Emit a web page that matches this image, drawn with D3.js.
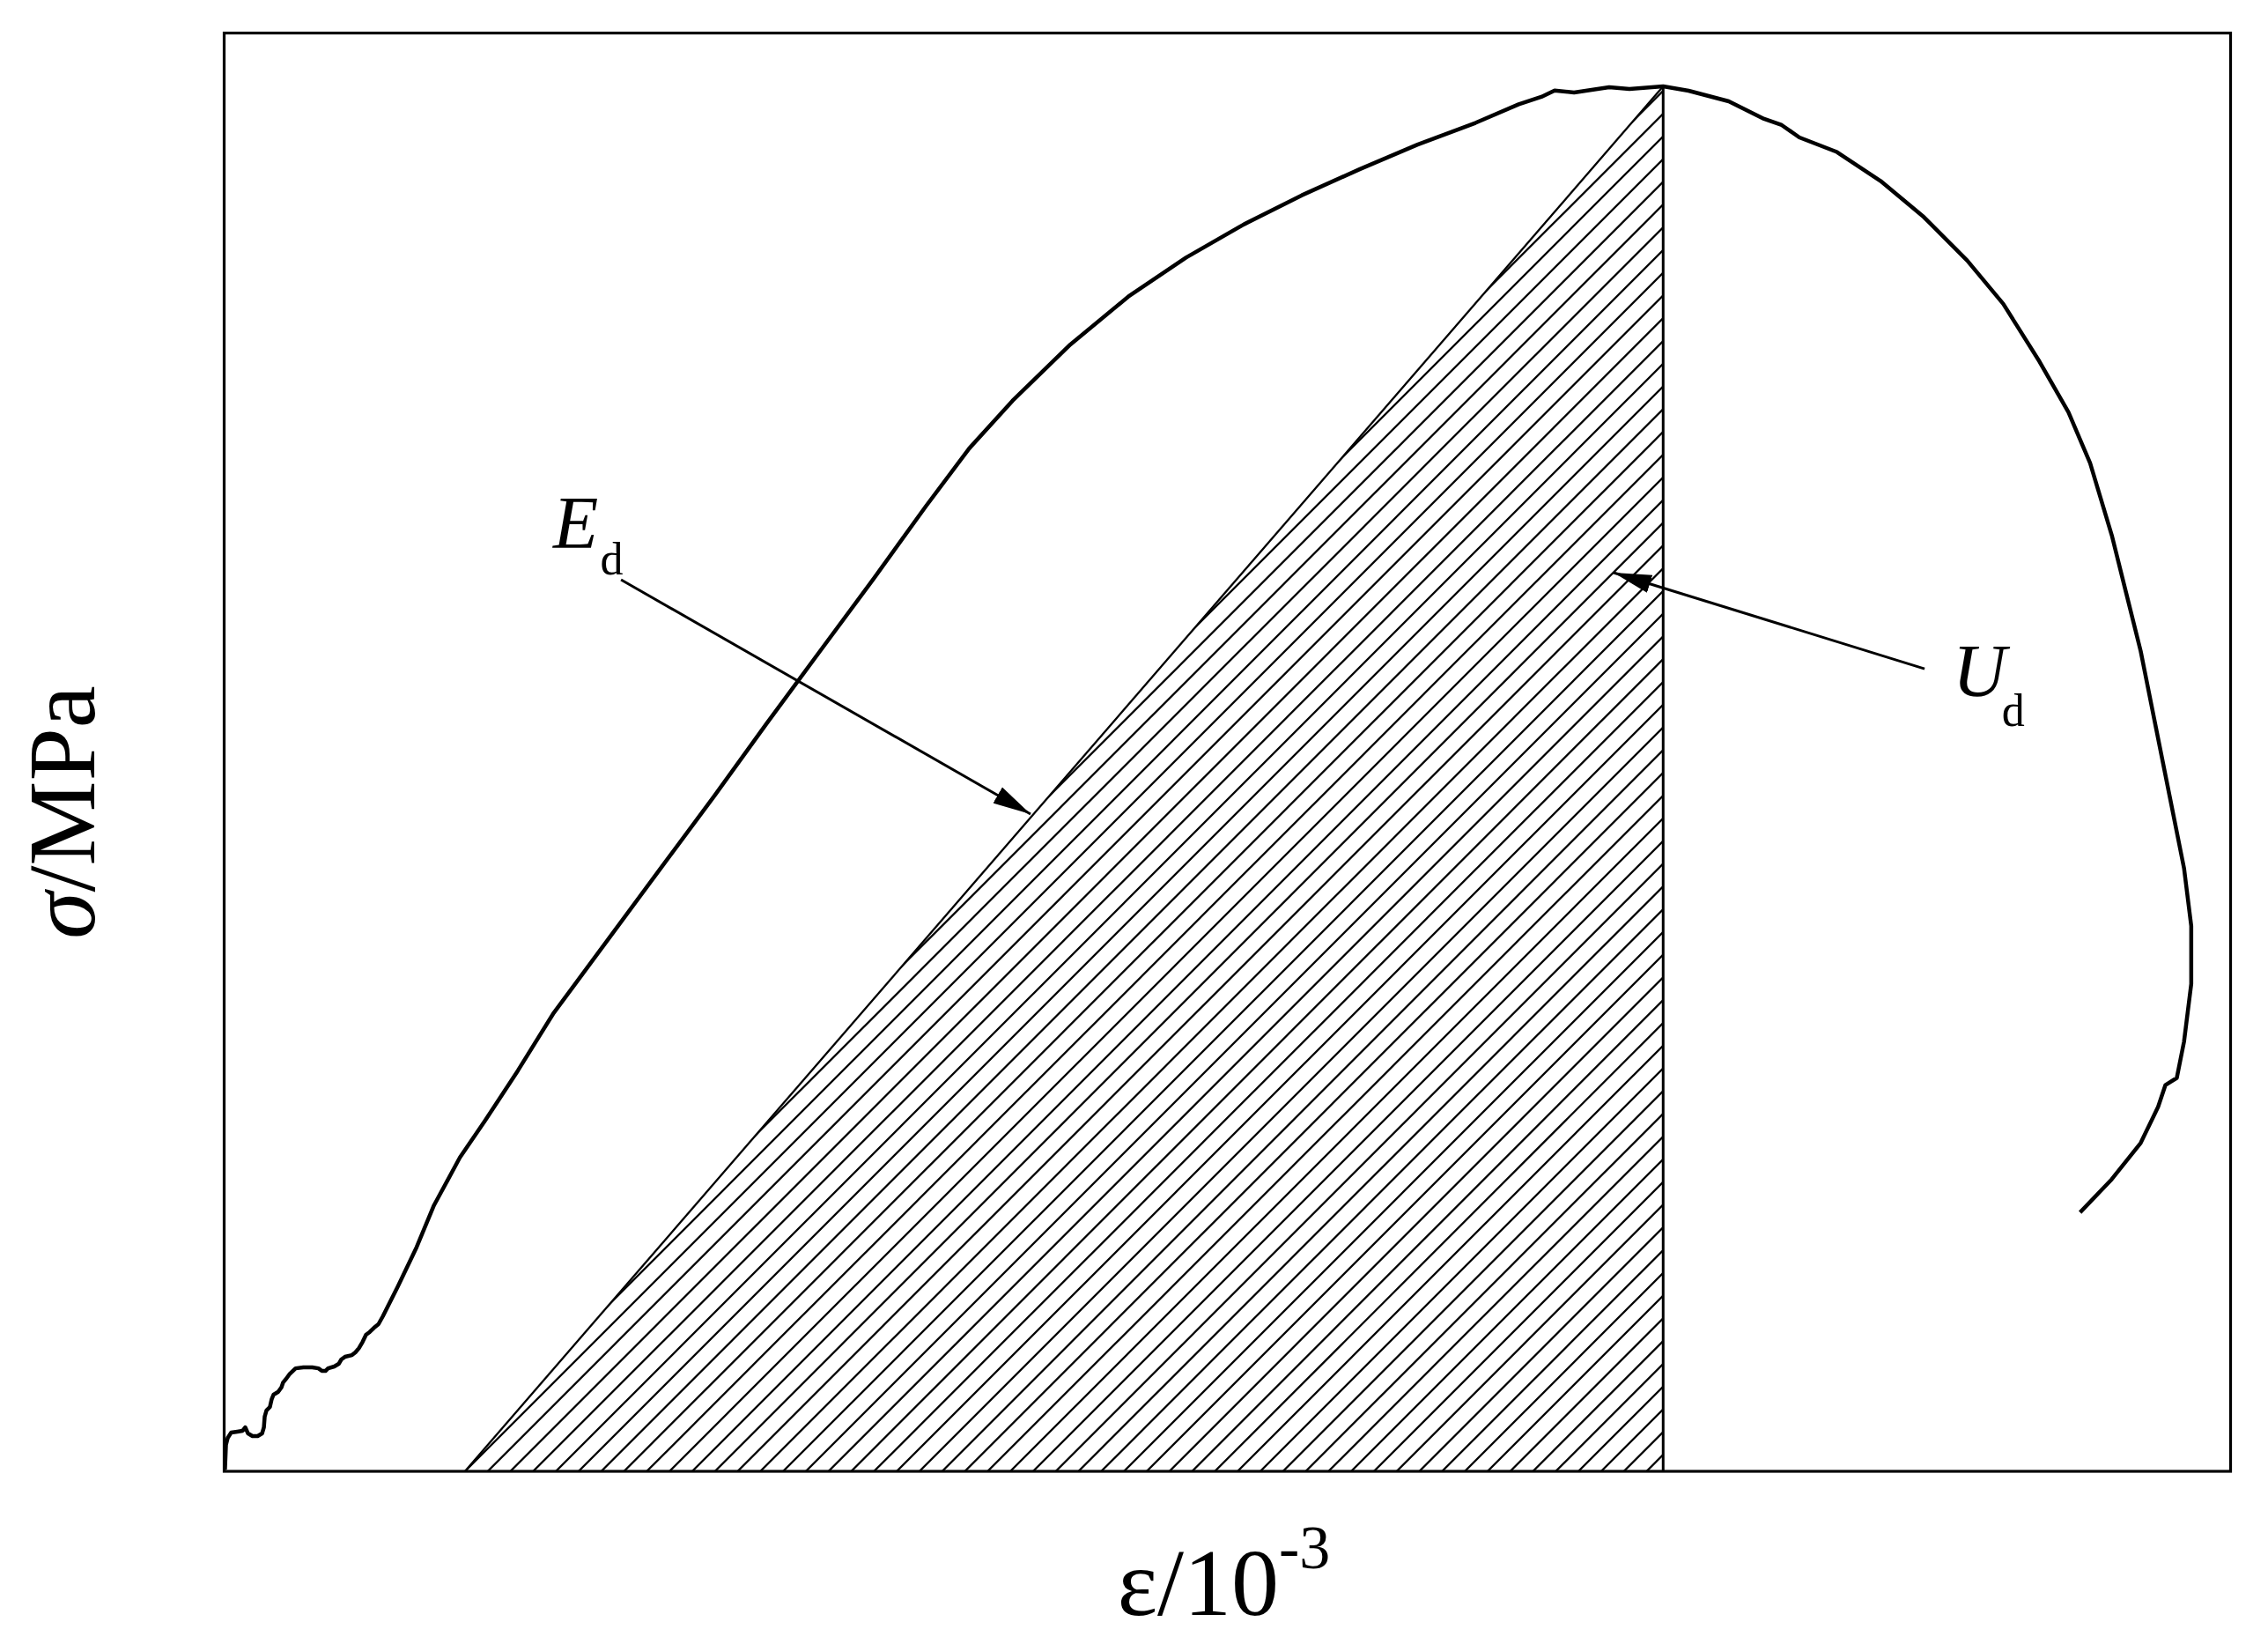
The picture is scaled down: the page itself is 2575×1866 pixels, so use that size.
<!DOCTYPE html>
<html>
<head>
<meta charset="utf-8">
<script src="https://cdn.jsdelivr.net/npm/d3@7"></script>
<style>
  body { margin: 0; background: #fff; }
  text { font-family: "Liberation Serif", "Times New Roman", serif; fill: #000; }
</style>
</head>
<body>
<div id="chart"></div>
<script>
// full stress-strain curve, strain in 10^-3, stress in MPa
const strain = [0.004, 0.009, 0.018, 0.035, 0.066, 0.092, 0.105, 0.119, 0.141, 0.167, 0.189, 0.198, 0.202, 0.211,
  0.228, 0.237, 0.246, 0.268, 0.285, 0.294, 0.312, 0.325, 0.356, 0.395, 0.439, 0.470, 0.487, 0.505, 0.518, 0.549,
  0.571, 0.584, 0.602, 0.637, 0.654, 0.672, 0.690, 0.707, 0.725, 0.747, 0.769, 0.791, 0.865, 0.959, 1.046, 1.175,
  1.298, 1.464, 1.643, 1.910, 2.176, 2.444, 2.704, 2.970, 3.237, 3.497, 3.713, 3.929, 4.218, 4.506,
  4.794, 5.083, 5.371, 5.659, 5.948, 6.236, 6.452, 6.565, 6.631, 6.728, 6.903, 7.004, 7.172,
  7.299, 7.499, 7.675, 7.763, 7.851, 8.038, 8.255, 8.471, 8.687, 8.867, 9.048, 9.192, 9.300, 9.408,
  9.480, 9.552, 9.624, 9.696, 9.768, 9.804, 9.804, 9.768, 9.732, 9.675, 9.639, 9.552, 9.408, 9.250]
const stress = [0.12, 1.84, 2.33, 2.69, 2.76, 2.82, 3.06, 2.63, 2.45, 2.45, 2.63, 3.06, 3.80, 4.23,
  4.47, 5.02, 5.33, 5.51, 5.82, 6.18, 6.49, 6.74, 7.16, 7.23, 7.23, 7.16, 6.98, 6.98, 7.16, 7.29,
  7.47, 7.78, 7.96, 8.08, 8.27, 8.57, 9.00, 9.49, 9.68, 9.98, 10.23, 10.78, 12.83, 15.58, 18.50, 21.82,
  24.33, 27.86, 31.88, 36.91, 41.94, 46.97, 52.00, 57.03, 62.06, 67.09, 71.11, 74.43, 78.35, 81.67,
  84.39, 86.70, 88.72, 90.53, 92.24, 93.75, 95.05, 95.56, 96.00, 95.87, 96.23, 96.11, 96.29,
  95.99, 95.25, 94.03, 93.60, 92.74, 91.73, 89.72, 87.21, 84.19, 81.17, 77.15, 73.63, 70.10, 65.08,
  61.05, 57.03, 51.99, 46.97, 41.94, 37.92, 33.89, 29.87, 27.35, 26.85, 25.34, 22.83, 20.31, 18.00]

// unloading line that bounds the releasable energy Ud
const unloadStrain = [1.20, 7.172]
const unloadStress = [0, 96.29]

// annotations: label, position (strain, stress), arrow start and arrow tip
const labels = ['E', 'U']
const labelStrain = [1.640, 8.615]
const labelStress = [64.20, 53.90]
const arrowFrom = [[1.978, 61.99], [8.475, 55.80]]
const arrowTo = [[4.019, 45.70], [6.925, 62.48]]

const width = 2575, height = 1866
const margin = {left: 254.5, right: 42.5, top: 37.5, bottom: 196}

const svg = d3.select('#chart').append('svg')
  .attr('width', width)
  .attr('height', height)
  .style('background', 'white')

const xScale = d3.scaleLinear()
  .domain([0, 10])
  .range([margin.left, width - margin.right])

const yScale = d3.scaleLinear()
  .domain([0, 100])
  .range([height - margin.bottom, margin.top])

const defs = svg.append('defs')

// hatched area: unloading line, peak drop line and the strain axis
const udPoly = unloadStrain.map((s, i) => [xScale(s), yScale(unloadStress[i])])
udPoly.push([xScale(unloadStrain[1]), yScale(0)])

defs.append('clipPath').attr('id', 'udClip')
  .append('polygon')
  .attr('points', udPoly.map(p => p.join(',')).join(' '))

defs.append('marker')
  .attr('id', 'head')
  .attr('markerUnits', 'userSpaceOnUse')
  .attr('viewBox', '0 -11 44 22')
  .attr('refX', 43)
  .attr('refY', 0)
  .attr('markerWidth', 44)
  .attr('markerHeight', 22)
  .attr('orient', 'auto')
  .append('path')
  .attr('d', 'M0,-10.5L43,0L0,10.5Z')
  .attr('fill', '#000')

// 45 degree hatch lines, anchored at the foot of the unloading line
const gap = 25.8
const c0 = xScale(unloadStrain[0]) + yScale(0)
const hatch = svg.append('g').attr('clip-path', 'url(#udClip)')
hatch.selectAll('line')
  .data(d3.range(-40, 80))
  .enter()
  .append('line')
  .attr('x1', k => c0 + k * gap - height)
  .attr('y1', height)
  .attr('x2', k => c0 + k * gap)
  .attr('y2', 0)
  .attr('stroke', '#000')
  .attr('stroke-width', 2.3)

svg.append('line')
  .attr('x1', xScale(unloadStrain[0]))
  .attr('y1', yScale(unloadStress[0]))
  .attr('x2', xScale(unloadStrain[1]))
  .attr('y2', yScale(unloadStress[1]))
  .attr('stroke', '#000')
  .attr('stroke-width', 2.3)

svg.append('line')
  .attr('x1', xScale(unloadStrain[1]))
  .attr('y1', yScale(unloadStress[1]))
  .attr('x2', xScale(unloadStrain[1]))
  .attr('y2', yScale(0))
  .attr('stroke', '#000')
  .attr('stroke-width', 3)

// the stress-strain curve
const line = d3.line()
  .x(d => xScale(d[0]))
  .y(d => yScale(d[1]))

svg.append('path')
  .datum(strain.map((s, i) => [s, stress[i]]))
  .attr('d', line)
  .attr('fill', 'none')
  .attr('stroke', '#000')
  .attr('stroke-width', 4.5)
  .attr('stroke-linejoin', 'round')

// frame
svg.append('rect')
  .attr('x', xScale(0))
  .attr('y', yScale(100))
  .attr('width', xScale(10) - xScale(0))
  .attr('height', yScale(0) - yScale(100))
  .attr('fill', 'none')
  .attr('stroke', '#000')
  .attr('stroke-width', 3.2)

// arrows
svg.selectAll('.arrow')
  .data(arrowFrom)
  .enter()
  .append('line')
  .attr('class', 'arrow')
  .attr('x1', d => xScale(d[0]))
  .attr('y1', d => yScale(d[1]))
  .attr('x2', (d, i) => xScale(arrowTo[i][0]))
  .attr('y2', (d, i) => yScale(arrowTo[i][1]))
  .attr('stroke', '#000')
  .attr('stroke-width', 3)
  .attr('marker-end', 'url(#head)')

const lab = svg.selectAll('.lab')
  .data(labels)
  .enter()
  .append('text')
  .attr('class', 'lab')
  .attr('x', (d, i) => xScale(labelStrain[i]))
  .attr('y', (d, i) => yScale(labelStress[i]))
  .style('font-size', '84px')
lab.append('tspan')
  .style('font-style', 'italic')
  .text(d => d)
lab.append('tspan')
  .attr('dx', (d, i) => i === 1 ? -5 : 2)
  .attr('dy', (d, i) => i === 1 ? 34 : 30)
  .style('font-size', '52px')
  .text('d')

// axis titles
const xt = svg.append('text')
  .attr('x', (xScale(0) + xScale(10)) / 2 - 4)
  .attr('y', 1833)
  .attr('text-anchor', 'middle')
  .style('font-size', '108px')
xt.append('tspan').text('ε/10')
xt.append('tspan')
  .attr('dy', -53)
  .style('font-size', '70px')
  .text('-3')

const yt = svg.append('text')
  .attr('transform', 'translate(107, 922) rotate(-90)')
  .attr('text-anchor', 'middle')
  .style('font-size', '108px')
yt.append('tspan').style('font-style', 'italic').text('σ')
yt.append('tspan').text('/MPa')
</script>
</body>
</html>
